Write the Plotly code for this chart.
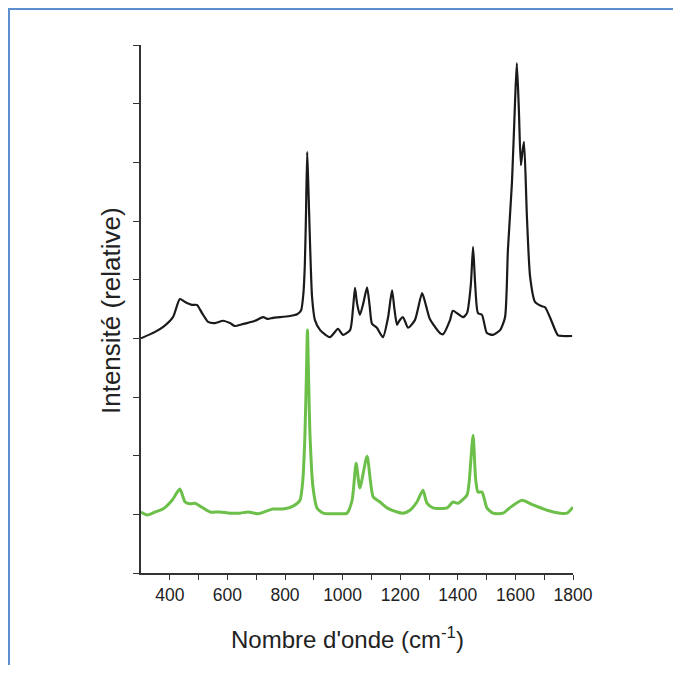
import plotly.graph_objects as go

# Black spectrum (upper trace, offset)
wn_black = [300, 349, 376, 411, 435, 453, 477, 494, 512, 533, 557, 585, 609, 626, 651, 668,
            696, 724, 741, 758, 783, 817, 842, 856, 864, 869, 873, 877, 881, 887, 894, 904,
            922, 956, 984, 1001, 1026, 1036, 1043, 1050, 1060, 1072, 1085, 1094, 1102, 1119,
            1140, 1158, 1166, 1172, 1180, 1189, 1197, 1210, 1227, 1251, 1276, 1290, 1303,
            1338, 1349, 1373, 1383, 1418, 1432, 1445, 1453, 1460, 1470, 1484, 1501, 1522,
            1547, 1564, 1574, 1588, 1599, 1605, 1612, 1619, 1625, 1630, 1640, 1651, 1668,
            1690, 1703, 1720, 1748, 1765, 1797]
int_black = [4.00, 4.11, 4.19, 4.36, 4.67, 4.62, 4.57, 4.57, 4.43, 4.28, 4.26, 4.30, 4.26,
             4.21, 4.24, 4.26, 4.30, 4.36, 4.33, 4.35, 4.36, 4.38, 4.41, 4.48, 4.77, 5.28,
             6.14, 7.18, 6.60, 5.60, 4.70, 4.31, 4.14, 4.02, 4.16, 4.06, 4.14, 4.50, 4.86,
             4.60, 4.40, 4.60, 4.87, 4.55, 4.25, 4.18, 4.02, 4.36, 4.65, 4.82, 4.50, 4.23,
             4.30, 4.36, 4.18, 4.31, 4.77, 4.55, 4.33, 4.09, 4.07, 4.31, 4.47, 4.36, 4.43,
             4.90, 5.56, 4.95, 4.43, 4.40, 4.09, 4.06, 4.14, 4.36, 5.51, 6.65, 8.06, 8.69,
             7.90, 6.95, 7.20, 7.35, 6.07, 5.05, 4.62, 4.55, 4.53, 4.36, 4.05, 4.04, 4.04]

# Green spectrum (lower trace)
wn_green = [300, 321, 349, 376, 408, 435, 453, 470, 488, 505, 540, 574, 609, 644, 672, 706,
            738, 758, 793, 828, 852, 862, 869, 874, 878, 882, 887, 897, 911, 932, 981, 1015,
            1033, 1047, 1060, 1085, 1106, 1130, 1154, 1189, 1210, 1234, 1258, 1279, 1293,
            1314, 1363, 1383, 1401, 1432, 1439, 1453, 1462, 1470, 1484, 1501, 1522, 1557,
            1588, 1623, 1661, 1710, 1755, 1779, 1800]
int_green = [1.04, 0.99, 1.04, 1.09, 1.24, 1.43, 1.21, 1.18, 1.19, 1.14, 1.04, 1.04, 1.02,
             1.02, 1.04, 1.01, 1.06, 1.09, 1.09, 1.14, 1.24, 1.59, 2.32, 3.30, 4.14, 3.30,
             2.32, 1.47, 1.11, 1.02, 1.01, 1.02, 1.24, 1.87, 1.45, 1.99, 1.30, 1.21, 1.11,
             1.04, 1.02, 1.07, 1.21, 1.41, 1.19, 1.11, 1.11, 1.21, 1.19, 1.33, 1.53, 2.35,
             1.60, 1.38, 1.38, 1.11, 1.02, 1.02, 1.14, 1.24, 1.16, 1.07, 1.02, 1.02, 1.12]

x_ticks = [400, 600, 800, 1000, 1200, 1400, 1600, 1800]
x_minor = [500, 700, 900, 1100, 1300, 1500, 1700]
y_ticks = [0, 1, 2, 3, 4, 5, 6, 7, 8, 9]

FONT = "Liberation Sans, Arial, sans-serif"

# page has an 8px body margin: layout px = reference px - 8
OFF = 8
L, T, PW, PH = 141 - OFF, 45 - OFF, 432, 528
W, H = 681 - 2 * OFF, 673 - 2 * OFF


def px_x(px):
    return (px - OFF - L) / PW


def px_y(py):
    return (T + PH - (py - OFF)) / PH


fig = go.Figure()
fig.add_trace(go.Scatter(x=wn_black, y=int_black, mode="lines",
                         line=dict(color="#1a1a1a", width=2.2, shape="spline", smoothing=0.6),
                         showlegend=False, hoverinfo="skip"))
fig.add_trace(go.Scatter(x=wn_green, y=int_green, mode="lines",
                         line=dict(color="#6cc04a", width=3, shape="spline", smoothing=0.6),
                         showlegend=False, hoverinfo="skip"))

fig.update_layout(
    width=W, height=H,
    margin=dict(l=L, r=W - L - PW, t=T, b=H - T - PH),
    paper_bgcolor="white", plot_bgcolor="white",
    font=dict(family=FONT, color="#222222"),
    xaxis=dict(range=[300, 1800], tickvals=x_ticks, ticktext=[str(v) for v in x_ticks],
               ticks="outside", ticklen=5, tickwidth=1.2, tickcolor="#333",
               showline=True, linecolor="#333", linewidth=1.5, showgrid=False, zeroline=False,
               tickfont=dict(size=17.5, family=FONT, color="#222"),
               minor=dict(tickvals=x_minor, ticks="outside", ticklen=5, tickwidth=1.2,
                          tickcolor="#333", showgrid=False)),
    yaxis=dict(range=[0, 9], tickvals=y_ticks, showticklabels=False,
               ticks="outside", ticklen=6, tickwidth=1.2, tickcolor="#333",
               showline=True, linecolor="#333", linewidth=1.5, showgrid=False, zeroline=False),
    annotations=[
        dict(text="Nombre d'onde (cm<sup>-1</sup>)", xref="paper", yref="paper",
             x=px_x(347), y=px_y(638), xanchor="center", yanchor="middle",
             showarrow=False, font=dict(size=24, family=FONT, color="#222")),
        dict(text="Intensité (relative)", xref="paper", yref="paper",
             x=px_x(111), y=px_y(311), xanchor="center", yanchor="middle",
             textangle=-90, showarrow=False, font=dict(size=26, family=FONT, color="#222")),
    ],
    shapes=[
        dict(type="line", xref="paper", yref="paper",
             x0=px_x(9), x1=px_x(9), y0=px_y(681), y1=px_y(8.5),
             line=dict(color="#5b8fd0", width=2)),
        dict(type="line", xref="paper", yref="paper",
             x0=px_x(8), x1=px_x(681), y0=px_y(9), y1=px_y(9),
             line=dict(color="#5b8fd0", width=2)),
    ],
)

fig.write_html("out.html")
